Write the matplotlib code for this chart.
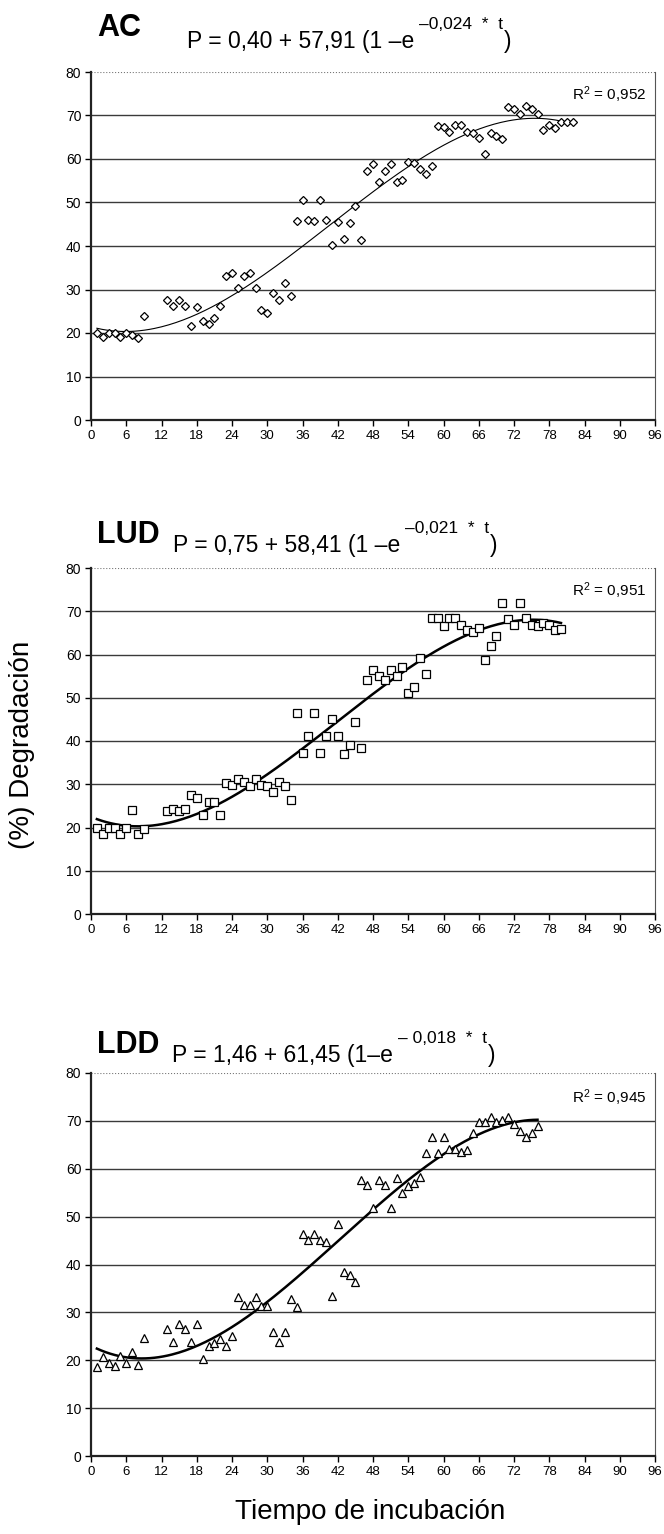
import numpy as np
import matplotlib
matplotlib.use('Agg')
import matplotlib.pyplot as plt

plt.rcParams['font.family'] = ['Liberation Sans', 'DejaVu Sans']
plt.rcParams['mathtext.fontset'] = 'custom'
plt.rcParams['mathtext.rm'] = 'Liberation Sans'
plt.rcParams['mathtext.it'] = 'Liberation Sans'

# tiempo de incubacion (h) y % degradacion
t_ac = [1, 2, 3, 4, 5, 6, 7, 8, 9,
        13, 14, 15, 16, 17, 18, 19, 20, 21, 22, 23, 24, 25, 26, 27, 28, 29, 30,
        31, 32, 33, 34, 35, 36, 37, 38, 39, 40, 41, 42, 43, 44, 45, 46, 47, 48,
        49, 50, 51, 52, 53, 54, 55, 56, 57, 58, 59, 60, 61, 62, 63, 64, 65, 66,
        67, 68, 69, 70, 71, 72, 73, 74, 75, 76, 77, 78, 79, 80, 81, 82]
deg_ac = [19.9, 19.0, 19.9, 19.9, 19.0, 19.9, 19.5, 18.8, 23.9,
          27.7, 26.1, 27.7, 26.1, 21.5, 25.9, 22.8, 22.1, 23.4, 26.1, 33.0, 33.9, 30.3, 33.0, 33.7, 30.3, 25.4, 24.7,
          29.3, 27.7, 31.6, 28.5, 45.8, 50.6, 46.0, 45.8, 50.6, 46.0, 40.2, 45.6, 41.6, 45.2, 49.2, 41.4, 57.3, 58.9,
          54.6, 57.3, 58.9, 54.6, 55.2, 59.3, 59.0, 57.6, 56.5, 58.5, 67.6, 67.4, 66.3, 67.8, 67.8, 66.1, 65.9, 64.9,
          61.1, 65.9, 65.3, 64.5, 72.0, 71.6, 70.3, 72.2, 71.6, 70.3, 66.7, 67.8, 67.2, 68.6, 68.6, 68.6]

t_lud = [1, 2, 3, 4, 5, 6, 7, 8, 9,
         13, 14, 15, 16, 17, 18, 19, 20, 21, 22, 23, 24, 25, 26, 27, 28, 29, 30,
         31, 32, 33, 34, 35, 36, 37, 38, 39, 40, 41, 42, 43, 44, 45, 46, 47, 48,
         49, 50, 51, 52, 53, 54, 55, 56, 57, 58, 59, 60, 61, 62, 63, 64, 65, 66,
         67, 68, 69, 70, 71, 72, 73, 74, 75, 76, 77, 78, 79, 80]
deg_lud = [19.8, 18.5, 19.8, 19.8, 18.5, 19.8, 24.1, 18.5, 19.7,
           23.8, 24.3, 23.8, 24.3, 27.4, 26.8, 22.8, 26.0, 26.0, 22.9, 30.4, 29.8, 31.1, 30.5, 29.7, 31.1, 29.8, 29.7,
           28.1, 30.5, 29.7, 26.4, 46.5, 37.3, 41.2, 46.5, 37.3, 41.2, 45.1, 41.2, 37.0, 39.1, 44.3, 38.3, 54.1, 56.4,
           55.1, 54.1, 56.4, 55.1, 57.0, 51.2, 52.5, 59.1, 55.6, 68.5, 68.5, 66.6, 68.5, 68.5, 66.8, 65.6, 65.2, 66.2,
           58.8, 61.9, 64.2, 72.0, 68.3, 66.9, 72.0, 68.5, 66.9, 66.5, 67.2, 66.8, 65.6, 66.0]

t_ldd = [1, 2, 3, 4, 5, 6, 7, 8, 9,
         13, 14, 15, 16, 17, 18, 19, 20, 21, 22, 23, 24, 25, 26, 27, 28, 29, 30,
         31, 32, 33, 34, 35, 36, 37, 38, 39, 40, 41, 42, 43, 44, 45, 46, 47, 48,
         49, 50, 51, 52, 53, 54, 55, 56, 57, 58, 59, 60, 61, 62, 63, 64, 65, 66,
         67, 68, 69, 70, 71, 72, 73, 74, 75, 76]
deg_ldd = [18.5, 20.6, 19.4, 18.7, 20.8, 19.4, 21.8, 19.0, 24.7,
           26.5, 23.9, 27.6, 26.5, 23.9, 27.6, 20.2, 23.0, 23.7, 24.4, 22.9, 25.1, 33.2, 31.5, 31.5, 33.2, 31.3, 31.3,
           25.8, 23.9, 26.0, 32.7, 31.2, 46.4, 45.1, 46.4, 45.1, 44.6, 33.5, 48.5, 38.5, 37.8, 36.4, 57.6, 56.6, 51.9,
           57.6, 56.6, 51.9, 58.0, 54.9, 56.3, 57.0, 58.2, 63.2, 66.7, 63.2, 66.7, 64.1, 64.1, 63.6, 63.9, 67.4, 69.7,
           69.8, 70.9, 69.7, 70.2, 70.9, 69.3, 67.9, 66.7, 67.5, 68.9]

names = ['AC', 'LUD', 'LDD']
ec_base = ['P = 0,40 + 57,91 (1 –e', 'P = 0,75 + 58,41 (1 –e', 'P = 1,46 + 61,45 (1–e']
ec_exp = ['–0,024  *  t', '–0,021  *  t', '– 0,018  *  t']
r2 = ['0,952', '0,951', '0,945']
marcadores = ['D', 's', '^']
tam = [4.2, 5.5, 6.0]
grosor = [0.8, 1.8, 1.8]
xticks = list(range(0, 97, 6))
yticks = list(range(0, 81, 10))

W, H = 664, 1534
fig = plt.figure(figsize=(W / 100, H / 100), dpi=100)

# cajas de los ejes en pixeles (izq, arriba, der, abajo)
cajas = [(91, 72, 655, 420), (91, 568, 655, 914), (91, 1073, 655, 1456)]
# posicion de nombre y ecuacion (x, linea base)
pos_nom = [(97, 36), (97, 543), (97, 1053)]
pos_ec = [(187, 48), (173, 552), (172, 1062)]

datos = [(t_ac, deg_ac), (t_lud, deg_lud), (t_ldd, deg_ldd)]

fig.canvas.draw()
ren = fig.canvas.get_renderer()

for i in range(3):
    l, tp, r, b = cajas[i]
    ax = fig.add_axes([l / W, 1 - b / H, (r - l) / W, (b - tp) / H])
    t, y = np.array(datos[i][0]), np.array(datos[i][1])

    for g in range(10, 80, 10):
        ax.axhline(g, color='#3a3a3a', lw=1.0, zorder=1)
    ax.axhline(80, color='#777777', lw=0.8, ls=':', zorder=1)

    ax.plot(t, y, ls='none', marker=marcadores[i], ms=tam[i], mfc='white',
            mec='black', mew=0.9, zorder=3)

    # linea de tendencia polinomica
    coef = np.polyfit(t, y, 3)
    tt = np.linspace(t.min(), t.max(), 200)
    ax.plot(tt, np.polyval(coef, tt), color='black', lw=grosor[i], zorder=2)

    ax.set_xlim(0, 96)
    ax.set_ylim(0, 80)
    ax.set_xticks(xticks)
    ax.set_yticks(yticks)
    ax.tick_params(axis='both', direction='out', length=4, width=1.0,
                   labelsize=9.5, colors='black', pad=3)
    ax.tick_params(axis='y', labelsize=10)
    ax.spines['top'].set_visible(False)
    ax.spines['right'].set_color('#555555')
    ax.spines['right'].set_linewidth(0.8)
    ax.spines['left'].set_linewidth(1.6)
    ax.spines['bottom'].set_linewidth(1.6)
    ax.spines['left'].set_color('#222222')
    ax.spines['bottom'].set_color('#222222')

    ax.text(0.985, 0.935, r'R$^{\mathrm{2}}$ = ' + r2[i], transform=ax.transAxes,
            ha='right', va='center', fontsize=11)

    fig.text(pos_nom[i][0] / W, 1 - pos_nom[i][1] / H, names[i],
             fontsize=22, fontweight='bold', va='baseline', ha='left')

    # ecuacion: base, exponente y parentesis encadenados
    x0, yb = pos_ec[i]
    tb = fig.text(x0 / W, 1 - yb / H, ec_base[i], fontsize=16.5,
                  va='baseline', ha='left')
    x1 = tb.get_window_extent(ren).x1 + 5
    te = fig.text(x1 / W, 1 - (yb - 19) / H, ec_exp[i], fontsize=12.5,
                  va='baseline', ha='left')
    x2 = te.get_window_extent(ren).x1 + 1
    fig.text(x2 / W, 1 - yb / H, ')', fontsize=16.5, va='baseline', ha='left')

fig.text(22 / W, 1 - 745 / H, '(%) Degradación', rotation=90, fontsize=20,
         ha='center', va='center')
fig.text(370 / W, 1 - 1512 / H, 'Tiempo de incubación', fontsize=20,
         ha='center', va='center')

fig.savefig('out.png', dpi=100)
